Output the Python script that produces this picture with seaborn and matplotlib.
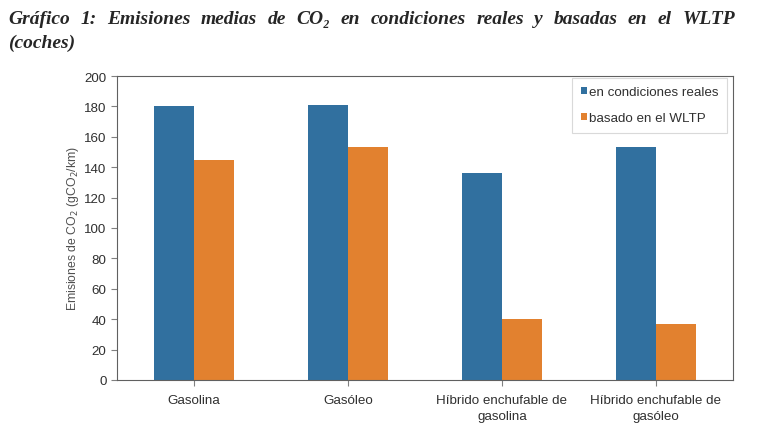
import matplotlib
matplotlib.use("Agg")
import matplotlib.pyplot as plt
import seaborn as sns
import pandas as pd

categories = ["Gasolina", "Gasóleo", "Híbrido enchufable de\ngasolina", "Híbrido enchufable de\ngasóleo"]
series = ["en condiciones reales", "basado en el WLTP"]
real_values = [180, 181, 136, 153]
wltp_values = [145, 153, 40, 37]
colors = ["#31709F", "#E2812F"]
title_line1 = "Gráfico 1: Emisiones medias de CO₂ en condiciones reales y basadas en el WLTP"
title_line2 = "(coches)"

df = pd.DataFrame({
    "cat": categories * 2,
    "serie": [series[0]] * 4 + [series[1]] * 4,
    "valor": real_values + wltp_values,
})

sns.set_style("white")
plt.rcParams["font.family"] = ["Liberation Sans", "DejaVu Sans"]

W, H = 760, 427
fig = plt.figure(figsize=(W / 100, H / 100), dpi=100)
ax = fig.add_axes([117 / W, 1 - 381 / H, 616 / W, 304 / H])

sns.barplot(data=df, x="cat", y="valor", hue="serie", palette=colors,
            width=0.52, saturation=1, linewidth=0, ax=ax, legend=True)

ax.set_ylim(0, 200)
ax.set_yticks(range(0, 201, 20))
ax.set_xlim(-0.5, 3.5)
ax.set_xlabel("")
ax.set_ylabel("Emisiones de CO$_2$ (gCO$_2$/km)", fontsize=8.8, color="#505050", labelpad=2)
ax.tick_params(axis="both", labelsize=9.6, labelcolor="#303030", color="#808080",
               length=4, direction="out", left=True, bottom=True)
ax.tick_params(axis="x", pad=6)
for lab in ax.get_xticklabels():
    lab.set_linespacing(1.45)
for s in ax.spines.values():
    s.set_color("#606060")
    s.set_linewidth(0.8)

leg = ax.legend(loc="upper right", fontsize=9.6, frameon=True, fancybox=False,
                handlelength=0.45, handleheight=0.45, handletextpad=0.15,
                borderpad=0.65, labelspacing=1.05, borderaxespad=0,
                bbox_to_anchor=(0.99, 0.995))
leg.get_frame().set_edgecolor("#d0d0d0")
leg.get_frame().set_linewidth(0.8)
for t in leg.get_texts():
    t.set_color("#303030")

# justified title line (word by word)
tkw = dict(family=["Liberation Serif", "DejaVu Serif"], fontsize=14, fontweight="bold",
           fontstyle="italic", va="center", ha="left")
words = title_line1.split(" ")
arts = [fig.text(0, 0.955, w, **tkw) for w in words]
fig.canvas.draw()
r = fig.canvas.get_renderer()
widths = [a.get_window_extent(r).width for a in arts]
x0, x1 = 8, 735
gap = (x1 - x0 - sum(widths)) / (len(words) - 1)
x = x0
for a, w in zip(arts, widths):
    a.set_x(x / W)
    x += w + gap
fig.text(x0 / W, 0.898, title_line2, **tkw)

fig.savefig("out.png", dpi=100)
